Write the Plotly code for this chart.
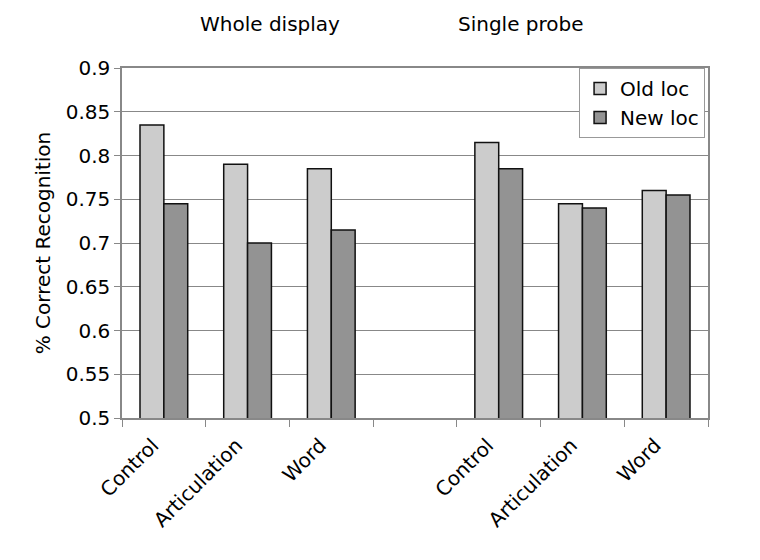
import plotly.graph_objects as go

categories = ["Control", "Articulation", "Word", "", "Control", "Articulation", "Word"]
old_loc = [0.835, 0.79, 0.785, None, 0.815, 0.745, 0.76]
new_loc = [0.745, 0.70, 0.715, None, 0.785, 0.74, 0.755]
y_ticks = [0.5, 0.55, 0.6, 0.65, 0.7, 0.75, 0.8, 0.85, 0.9]

x_pos = list(range(len(categories)))
font_family = "DejaVu Sans, Verdana, sans-serif"

fig = go.Figure()
fig.add_trace(go.Bar(
    x=x_pos, y=old_loc, name="Old loc",
    marker=dict(color="#CCCCCC", line=dict(color="#111111", width=1.5)),
))
fig.add_trace(go.Bar(
    x=x_pos, y=new_loc, name="New loc",
    marker=dict(color="#939393", line=dict(color="#111111", width=1.5)),
))

fig.update_layout(
    width=760, height=560,
    barmode="group", bargap=0.43, bargroupgap=0,
    paper_bgcolor="white", plot_bgcolor="white",
    margin=dict(l=114, r=60, t=60, b=150),
    font=dict(family=font_family, size=20, color="#000000"),
    showlegend=True,
    legend=dict(
        x=0.995, y=1, xanchor="right", yanchor="top",
        bgcolor="white", bordercolor="#999999", borderwidth=1,
        font=dict(size=20), itemwidth=30, tracegroupgap=0,
    ),
    xaxis=dict(
        range=[-0.5, len(categories) - 0.5],
        tickvals=x_pos, ticktext=categories, tickangle=-45,
        ticklabelshift=-11, ticklabelstandoff=6,
        ticks="", showgrid=False, zeroline=False,
        showline=True, linecolor="#888888", linewidth=1.5, mirror=True,
        minor=dict(tick0=-0.5, dtick=1, ticks="outside", ticklen=7,
                   tickcolor="#888888", showgrid=False),
    ),
    yaxis=dict(
        range=[0.5, 0.9], tickvals=y_ticks,
        ticktext=[f"{v:g}" for v in y_ticks],
        ticks="outside", ticklen=6, tickcolor="#888888",
        showgrid=True, gridcolor="#888888", gridwidth=1,
        showline=True, linecolor="#888888", linewidth=1.5, mirror=True,
        zeroline=False,
        title=dict(text="% Correct Recognition", font=dict(size=20), standoff=10),
    ),
    annotations=[
        dict(text="Whole display", x=0.253, y=1.0, xref="paper", yref="paper",
             xanchor="center", yanchor="middle", yshift=44,
             showarrow=False, font=dict(size=20)),
        dict(text="Single probe", x=0.681, y=1.0, xref="paper", yref="paper",
             xanchor="center", yanchor="middle", yshift=44,
             showarrow=False, font=dict(size=20)),
    ],
)

fig.write_html("out.html")
